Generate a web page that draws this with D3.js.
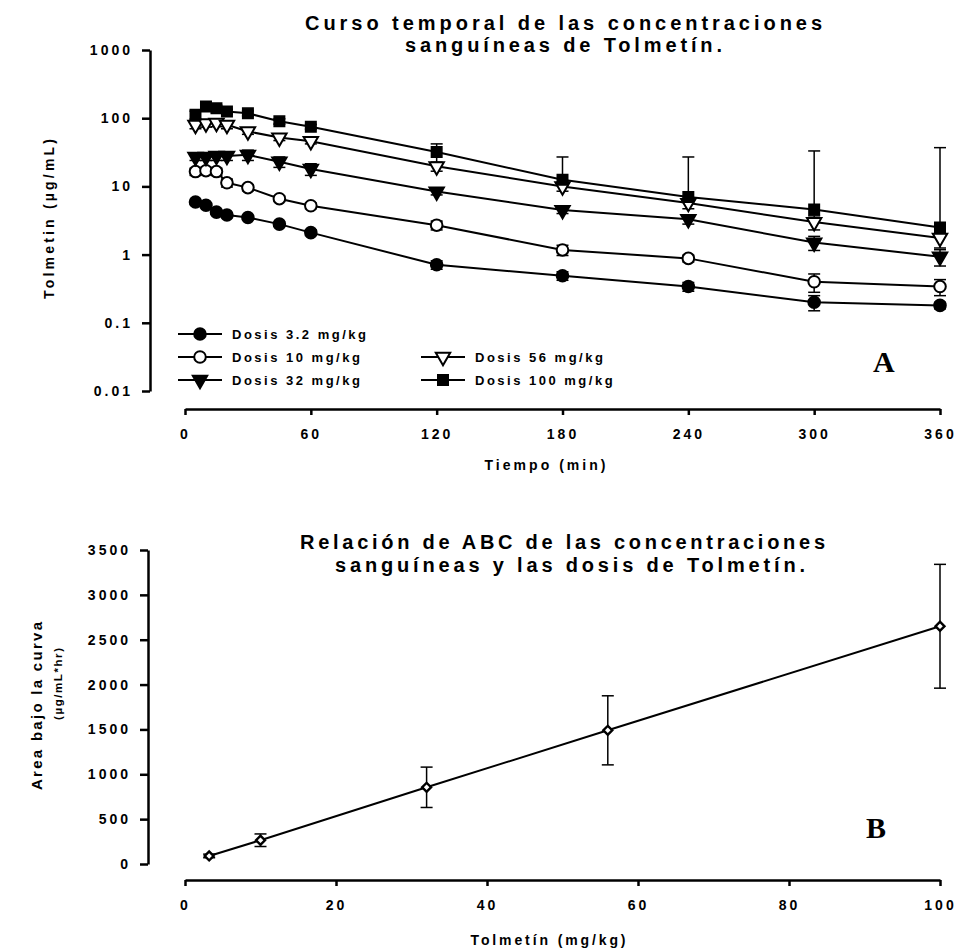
<!DOCTYPE html>
<html>
<head>
<meta charset="utf-8">
<script src="https://d3js.org/d3.v7.min.js"></script>
<style>
  body { margin: 0; background: #fff; }
  svg text { font-family: "Liberation Sans", Arial, sans-serif; font-weight: bold; fill: #000; }
  .axis path, .axis line { stroke: #000; stroke-width: 2.5; }
  .axis text { font-size: 14px; letter-spacing: 3px; }
</style>
</head>
<body>
<div id="chart"></div>
<script>
// --- datos panel A (concentración vs tiempo) ---
const times = [5, 10, 15, 20, 30, 45, 60, 120, 180, 240, 300, 360];
const c3_2  = [5.9, 5.3, 4.2, 3.8, 3.5, 2.8, 2.1, 0.71, 0.49, 0.34, 0.20, 0.18];
const sd3_2 = [0.3, 0.3, 0.3, 0.3, 0.2, 0.2, 0.2, 0.1, 0.07, 0.05, 0.05, 0.02];
const c10   = [16.5, 17, 16.5, 11.3, 9.6, 6.6, 5.2, 2.7, 1.17, 0.88, 0.40, 0.34];
const sd10  = [2, 2, 2, 1.5, 1, 0.6, 0.5, 0.4, 0.2, 0.1, 0.12, 0.09];
const c32   = [27, 27, 28, 28, 29, 23, 18, 8.4, 4.5, 3.3, 1.5, 0.93];
const sd32  = [3, 3, 4, 4, 5, 4, 3.5, 0.9, 0.5, 0.5, 0.35, 0.25];
const c56   = [80, 84, 85, 80, 64, 52, 46, 19.7, 10, 5.7, 3.0, 1.75];
const sd56  = [10, 10, 10, 10, 6, 5, 4, 3, 1.5, 1, 0.7, 0.5];
const c100  = [112, 148, 140, 125, 118, 90, 75, 32, 12.5, 7.0, 4.6, 2.5];
const sd100 = [15, 15, 15, 10, 10, 8, 6, 10, 14.5, 20, 28.5, 34.5];
const seriesNames = ["Dosis 3.2 mg/kg", "Dosis 10 mg/kg", "Dosis 32 mg/kg", "Dosis 56 mg/kg", "Dosis 100 mg/kg"];
const yTicksA = [0.01, 0.1, 1, 10, 100, 1000];
const xTicksA = [0, 60, 120, 180, 240, 300, 360];

// --- datos panel B (ABC vs dosis) ---
const doses = [3.2, 10, 32, 56, 100];
const abc   = [90, 265, 855, 1490, 2650];
const abcSd = [20, 70, 225, 385, 690];
const yTicksB = [0, 500, 1000, 1500, 2000, 2500, 3000, 3500];
const xTicksB = [0, 20, 40, 60, 80, 100];

const W = 957, H = 951;
const svg = d3.select("#chart").append("svg")
    .attr("width", W).attr("height", H);
svg.append("rect").attr("width", W).attr("height", H).attr("fill", "#fff");

// ================= Panel A =================
const xA = d3.scaleLinear().domain([0, 360]).range([185, 940]);
const yA = d3.scaleLog().domain([0.01, 1000]).range([391, 50]);

const fmtA = d => d >= 1 ? d3.format("d")(d) : String(d);

svg.append("g").attr("class", "axis")
    .attr("transform", "translate(150,0)")
    .call(d3.axisLeft(yA).tickValues(yTicksA).tickFormat(fmtA).tickSize(8).tickSizeOuter(0).tickPadding(9));

svg.append("g").attr("class", "axis")
    .attr("transform", "translate(0,409)")
    .call(d3.axisBottom(xA).tickValues(xTicksA).tickFormat(d3.format("d")).tickSize(6).tickSizeOuter(0).tickPadding(14));

const symFilledCircle = {type: "circle", fill: "#000"};
const symOpenCircle = {type: "circle", fill: "#fff"};
const symFilledTri = {type: "tri", fill: "#000"};
const symOpenTri = {type: "tri", fill: "#fff"};
const symFilledSq = {type: "sq", fill: "#000"};

const seriesA = [
  {vals: c3_2, sd: sd3_2, sym: symFilledCircle},
  {vals: c10, sd: sd10, sym: symOpenCircle},
  {vals: c32, sd: sd32, sym: symFilledTri},
  {vals: c56, sd: sd56, sym: symOpenTri},
  {vals: c100, sd: sd100, sym: symFilledSq}
];

function drawMarker(g, sym, x, y) {
  if (sym.type === "circle") {
    g.append("circle").attr("cx", x).attr("cy", y).attr("r", 5.8)
      .attr("fill", sym.fill).attr("stroke", "#000").attr("stroke-width", 2);
  } else if (sym.type === "tri") {
    g.append("path").attr("d", d3.symbol(d3.symbolTriangle).size(90)())
      .attr("transform", "translate(" + x + "," + y + ") rotate(180)")
      .attr("fill", sym.fill).attr("stroke", "#000").attr("stroke-width", 2);
  } else {
    g.append("path").attr("d", d3.symbol(d3.symbolSquare).size(110)())
      .attr("transform", "translate(" + x + "," + y + ")")
      .attr("fill", sym.fill).attr("stroke", "#000").attr("stroke-width", 1.5);
  }
}

const lineA = d3.line().x(d => xA(d.t)).y(d => yA(d.v));
const gA = svg.append("g");

seriesA.forEach(s => {
  const pts = times.map((t, i) => ({t: t, v: s.vals[i], sd: s.sd[i]}));
  gA.append("path").datum(pts).attr("d", lineA)
    .attr("fill", "none").attr("stroke", "#000").attr("stroke-width", 2);
  // barras de error
  pts.forEach(p => {
    const x = xA(p.t);
    const top = yA(p.v + p.sd);
    const lo = p.v - p.sd > 0.01 ? yA(p.v - p.sd) : yA(p.v);
    gA.append("line").attr("x1", x).attr("x2", x).attr("y1", top).attr("y2", lo)
      .attr("stroke", "#000").attr("stroke-width", 1.5);
    gA.append("line").attr("x1", x - 6).attr("x2", x + 6).attr("y1", top).attr("y2", top)
      .attr("stroke", "#000").attr("stroke-width", 1.5);
    if (p.v - p.sd > 0.01) {
      gA.append("line").attr("x1", x - 6).attr("x2", x + 6).attr("y1", lo).attr("y2", lo)
        .attr("stroke", "#000").attr("stroke-width", 1.5);
    }
  });
});
seriesA.forEach(s => {
  times.forEach((t, i) => drawMarker(gA, s.sym, xA(t), yA(s.vals[i])));
});

// leyenda
const legPos = [[178, 334], [178, 357], [178, 380], [421, 357], [421, 380]];
seriesA.forEach((s, i) => {
  const [lx, ly] = legPos[i];
  gA.append("line").attr("x1", lx).attr("x2", lx + 44).attr("y1", ly).attr("y2", ly)
    .attr("stroke", "#000").attr("stroke-width", 2);
  drawMarker(gA, s.sym, lx + 22, ly);
  gA.append("text").attr("x", lx + 54).attr("y", ly + 5)
    .style("font-size", "13px").style("letter-spacing", "2.5px")
    .text(seriesNames[i]);
});

svg.append("text").attr("x", 873).attr("y", 372)
  .style("font-family", "'Liberation Serif', 'Times New Roman', serif")
  .style("font-size", "30px").text("A");

// títulos A
svg.append("text").attr("x", 305).attr("y", 30).attr("textLength", 517).attr("lengthAdjust", "spacing")
  .style("font-size", "20px").text("Curso temporal de las concentraciones");
svg.append("text").attr("x", 405).attr("y", 52).attr("textLength", 317).attr("lengthAdjust", "spacing")
  .style("font-size", "20px").text("sanguíneas de Tolmetín.");
svg.append("text").attr("transform", "translate(54,219) rotate(-90)").attr("text-anchor", "middle")
  .attr("textLength", 160).attr("lengthAdjust", "spacing")
  .style("font-size", "14px").text("Tolmetin (µg/mL)");
svg.append("text").attr("x", 545).attr("y", 470).attr("text-anchor", "middle")
  .attr("textLength", 121).attr("lengthAdjust", "spacing")
  .style("font-size", "14px").text("Tiempo (min)");

// ================= Panel B =================
const xB = d3.scaleLinear().domain([0, 100]).range([185, 940]);
const yB = d3.scaleLinear().domain([0, 3500]).range([864, 550]);

svg.append("g").attr("class", "axis")
    .attr("transform", "translate(148,0)")
    .call(d3.axisLeft(yB).tickValues(yTicksB).tickFormat(d3.format("d")).tickSize(8).tickSizeOuter(0).tickPadding(9));
svg.append("g").attr("class", "axis")
    .attr("transform", "translate(0,880)")
    .call(d3.axisBottom(xB).tickValues(xTicksB).tickFormat(d3.format("d")).tickSize(6).tickSizeOuter(0).tickPadding(14));

const ptsB = doses.map((d, i) => ({d: d, v: abc[i], sd: abcSd[i]}));
const gB = svg.append("g");
gB.append("path").datum(ptsB)
  .attr("d", d3.line().x(p => xB(p.d)).y(p => yB(p.v)))
  .attr("fill", "none").attr("stroke", "#000").attr("stroke-width", 2);
ptsB.forEach(p => {
  const x = xB(p.d), t = yB(p.v + p.sd), b = yB(p.v - p.sd);
  gB.append("line").attr("x1", x).attr("x2", x).attr("y1", t).attr("y2", b)
    .attr("stroke", "#000").attr("stroke-width", 1.5);
  [t, b].forEach(yy => gB.append("line").attr("x1", x - 6).attr("x2", x + 6)
    .attr("y1", yy).attr("y2", yy).attr("stroke", "#000").attr("stroke-width", 1.5));
  gB.append("path").attr("d", d3.symbol(d3.symbolSquare).size(40)())
    .attr("transform", "translate(" + x + "," + yB(p.v) + ") rotate(45)")
    .attr("fill", "#fff").attr("stroke", "#000").attr("stroke-width", 2.4);
});

svg.append("text").attr("x", 866).attr("y", 838)
  .style("font-family", "'Liberation Serif', 'Times New Roman', serif")
  .style("font-size", "30px").text("B");

svg.append("text").attr("x", 300).attr("y", 549).attr("textLength", 525).attr("lengthAdjust", "spacing")
  .style("font-size", "20px").text("Relación de ABC de las concentraciones");
svg.append("text").attr("x", 335).attr("y", 572).attr("textLength", 470).attr("lengthAdjust", "spacing")
  .style("font-size", "20px").text("sanguíneas y las dosis de Tolmetín.");
svg.append("text").attr("transform", "translate(42,706) rotate(-90)").attr("text-anchor", "middle")
  .attr("textLength", 168).attr("lengthAdjust", "spacing")
  .style("font-size", "15px").text("Area bajo la curva");
svg.append("text").attr("transform", "translate(62,684) rotate(-90)").attr("text-anchor", "middle")
  .attr("textLength", 72).attr("lengthAdjust", "spacing")
  .style("font-size", "11.5px").text("(µg/mL*hr)");
svg.append("text").attr("x", 548).attr("y", 945).attr("text-anchor", "middle")
  .attr("textLength", 155).attr("lengthAdjust", "spacing")
  .style("font-size", "14px").text("Tolmetín (mg/kg)");
</script>
</body>
</html>
